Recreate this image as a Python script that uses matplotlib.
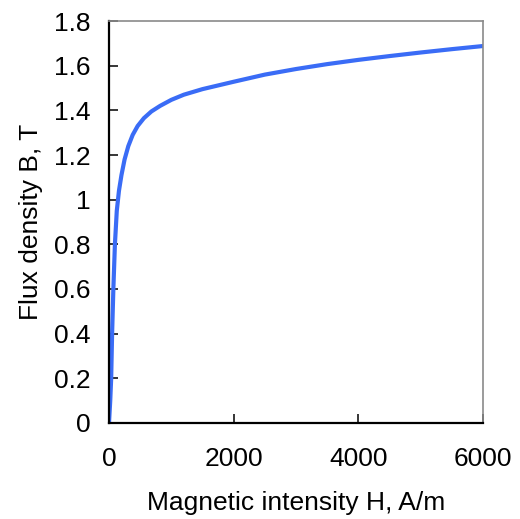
import matplotlib
matplotlib.use("Agg")
import matplotlib.pyplot as plt

plt.rcParams['font.family'] = ['Liberation Sans', 'DejaVu Sans']

# B-H magnetisation curve
H = [0, 20, 35, 50, 70, 95, 125, 160, 200, 250, 310, 380, 460, 560, 680,
     820, 1000, 1200, 1500, 2000, 2500, 3000, 3500, 4000, 4500, 5000,
     5500, 6000]
B = [0, 0.1, 0.2, 0.4, 0.6, 0.8, 0.95, 1.04, 1.11, 1.18, 1.24, 1.29,
     1.33, 1.365, 1.395, 1.42, 1.447, 1.47, 1.495, 1.528, 1.56, 1.585,
     1.607, 1.626, 1.643, 1.659, 1.674, 1.688]

xticks = [0, 2000, 4000, 6000]
yticks = [0, 0.2, 0.4, 0.6, 0.8, 1, 1.2, 1.4, 1.6, 1.8]
ylabels = ['0', '0.2', '0.4', '0.6', '0.8', '1', '1.2', '1.4', '1.6', '1.8']

fig = plt.figure(figsize=(5.2, 5.19), dpi=100)
ax = fig.add_axes([0.2096, 0.185, 0.7192, 0.7745])

ax.plot(H, B, color='#3a6cf6', lw=3.0, solid_joinstyle='round')

ax.set_xlim(0, 6000)
ax.set_ylim(0, 1.8)
ax.set_xticks(xticks)
ax.set_yticks(yticks)
ax.set_yticklabels(ylabels)
ax.tick_params(direction='in', length=6.5, width=1.1, labelsize=19)
ax.tick_params(axis='x', pad=17)
ax.tick_params(axis='y', pad=13)

for s in ['left', 'bottom']:
    ax.spines[s].set_color('black')
    ax.spines[s].set_linewidth(1.6)
for s in ['top', 'right']:
    ax.spines[s].set_color('#8a8a8a')
    ax.spines[s].set_linewidth(1.2)

ax.set_xlabel('Magnetic intensity H, A/m', fontsize=19, labelpad=15)
ax.set_ylabel('Flux density B, T', fontsize=19, labelpad=8)

fig.savefig('out.png', dpi=100)
